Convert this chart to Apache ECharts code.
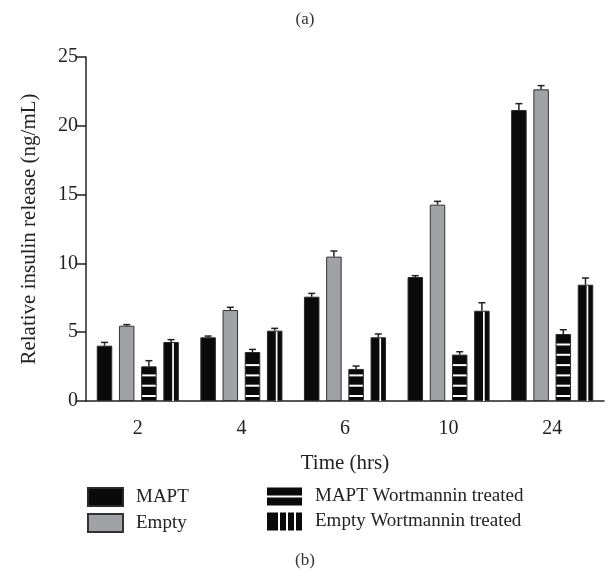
<!DOCTYPE html>
<html>
<head>
<meta charset="utf-8">
<script src="https://cdn.jsdelivr.net/npm/echarts@6/dist/echarts.min.js"></script>
<style>html,body{margin:0;padding:0;background:#fff}#c{width:610px;height:577px}</style>
</head>
<body>
<div id="c"></div>
<script>
const categories = ['2', '4', '6', '10', '24'];
const seriesNames = ['MAPT', 'Empty', 'MAPT Wortmannin treated', 'Empty Wortmannin treated'];
const mapt = [4.02, 4.63, 7.58, 9.01, 21.15];
const maptErr = [0.24, 0.09, 0.24, 0.10, 0.46];
const empty = [5.47, 6.61, 10.49, 14.27, 22.65];
const emptyErr = [0.08, 0.20, 0.41, 0.24, 0.27];
const maptW = [2.52, 3.56, 2.33, 3.37, 4.87];
const maptWErr = [0.41, 0.19, 0.21, 0.21, 0.31];
const emptyW = [4.29, 5.11, 4.63, 6.56, 8.45];
const emptyWErr = [0.17, 0.17, 0.24, 0.58, 0.49];
const yTicks = [0, 5, 10, 15, 20, 25];

const values = [mapt, empty, maptW, emptyW];
const errs = [maptErr, emptyErr, maptWErr, emptyWErr];
const fills = ['#0a0a0a', '#a1a2a6', '#0a0a0a', '#0a0a0a'];
const BW = 15.5, GAP = 6.7;
const FONT = '"Liberation Serif", "DejaVu Serif", serif';

const chart = echarts.init(document.getElementById('c'), null, {renderer: 'canvas'});

const series = [];
values.forEach((v, si) => {
  series.push({
    name: seriesNames[si], type: 'bar', data: v,
    barWidth: BW, barGap: (GAP / BW * 100) + '%',
    itemStyle: {color: fills[si], borderColor: si === 1 ? '#333' : '#2a2a2a', borderWidth: 1},
    z: 2, silent: true
  });
});
values.forEach((v, si) => {
  const offset = -((4 * BW + 3 * GAP) / 2) + si * (BW + GAP) + BW / 2;
  series.push({
    type: 'custom', z: 5, silent: true,
    data: v.map((val, i) => [i, val, errs[si][i]]),
    encode: {x: 0, y: 1},
    renderItem: function (params, api) {
      const idx = api.value(0), val = api.value(1), e = api.value(2);
      const top = api.coord([idx, val]);
      const base = api.coord([idx, 0]);
      const et = api.coord([idx, val + e]);
      const cx = top[0] + offset;
      const x0 = cx - BW / 2;
      const children = [];
      if (si === 2) {
        for (let y = base[1] - 5; y > top[1] + 4; y -= 10.3) {
          children.push({type: 'rect', shape: {x: x0 + 1, y: y - 1, width: BW - 2, height: 2}, style: {fill: '#fff'}});
        }
      }
      if (si === 3) {
        children.push({type: 'rect', shape: {x: x0 + BW * 0.57, y: top[1] + 1, width: 1.7, height: base[1] - top[1] - 1}, style: {fill: '#fff'}});
      }
      children.push({type: 'line', shape: {x1: cx, y1: top[1], x2: cx, y2: et[1]}, style: {stroke: '#222', lineWidth: 1.5}});
      children.push({type: 'line', shape: {x1: cx - 3.5, y1: et[1], x2: cx + 3.5, y2: et[1]}, style: {stroke: '#222', lineWidth: 1.5}});
      return {type: 'group', children: children};
    }
  });
});

const legText = {fontFamily: FONT, fontSize: 19, color: '#222', padding: [0, 0, 0, 8]};
const option = {
  animation: false,
  backgroundColor: '#fff',
  title: [
    {text: '(a)', left: 'center', top: 6, textStyle: {fontFamily: FONT, fontSize: 17, fontWeight: 'normal', color: '#333'}},
    {text: '(b)', left: 'center', top: 547, textStyle: {fontFamily: FONT, fontSize: 17, fontWeight: 'normal', color: '#333'}}
  ],
  grid: {left: 86, right: 6, top: 57, bottom: 176},
  legend: [
    {orient: 'vertical', left: 82, top: 482, itemWidth: 35, itemHeight: 18, itemGap: 6,
     textStyle: legText,
     data: [
       {name: seriesNames[0], icon: 'rect'},
       {name: seriesNames[1], icon: 'rect'}
     ], selectedMode: false},
    {orient: 'vertical', left: 262, top: 482, itemWidth: 35, itemHeight: 18, itemGap: 6,
     textStyle: legText,
     data: [
       {name: seriesNames[2], icon: 'path://M0,0H35V8H0Z M0,10H35V18H0Z', itemStyle: {borderWidth: 0}},
       {name: seriesNames[3], icon: 'path://M0,0H11V18H0Z M13,0H19V18H13Z M21,0H27V18H21Z M29,0H35V18H29Z', itemStyle: {borderWidth: 0}}
     ], selectedMode: false}
  ],
  xAxis: {
    type: 'category', data: categories,
    name: 'Time (hrs)', nameLocation: 'middle', nameGap: 52,
    nameTextStyle: {fontFamily: FONT, fontSize: 21, color: '#222'},
    axisLine: {lineStyle: {color: '#222', width: 1.5}},
    axisTick: {alignWithLabel: true, length: 9, lineStyle: {color: '#222', width: 1.5}},
    axisLabel: {fontFamily: FONT, fontSize: 20, color: '#222', margin: 18}
  },
  yAxis: {
    type: 'value', min: yTicks[0], max: yTicks[yTicks.length - 1], interval: 5,
    name: 'Relative insulin release (ng/mL)', nameLocation: 'middle', nameGap: 46,
    nameTextStyle: {fontFamily: FONT, fontSize: 21, color: '#222'},
    axisLine: {show: true, lineStyle: {color: '#222', width: 1.5}},
    axisTick: {show: true, length: 9, lineStyle: {color: '#222', width: 1.5}},
    axisLabel: {fontFamily: FONT, fontSize: 20, color: '#222', margin: 8},
    splitLine: {show: false}
  },
  series: series
};
chart.setOption(option);
</script>
</body>
</html>
